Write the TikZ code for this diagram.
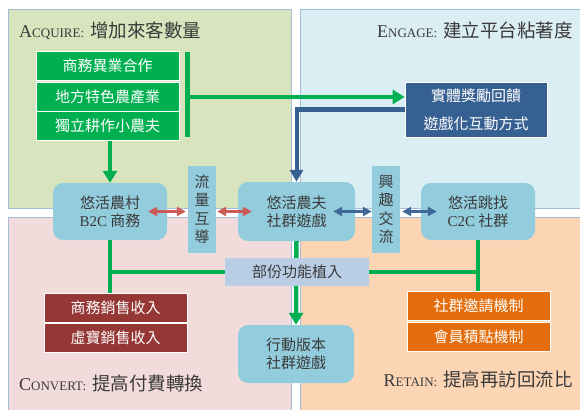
\documentclass[tikz,border=0pt]{standalone}
\usepackage{fontspec}
\newfontfamily\cjk{Noto Sans CJK TC}
\newfontfamily\tms{Liberation Serif}
\usetikzlibrary{arrows.meta}
\definecolor{acq}{HTML}{D7E4BD}
\definecolor{eng}{HTML}{DBEEF4}
\definecolor{con}{HTML}{F2DCDB}
\definecolor{ret}{HTML}{FCD5B5}
\definecolor{qline}{HTML}{A4BCDA}
\definecolor{lbox}{HTML}{93CDDD}
\definecolor{pbox}{HTML}{B9CDE5}
\definecolor{grn}{HTML}{00B050}
\definecolor{bbx}{HTML}{376092}
\definecolor{dred}{HTML}{953735}
\definecolor{org}{HTML}{E46C0A}
\definecolor{rarr}{HTML}{CD5A55}
\definecolor{barr}{HTML}{3F6797}
\definecolor{txt}{HTML}{3A3A3A}
\newcommand\lat[1]{{\tms #1}}
\newcommand\ttl[2]{{\tms\fontsize{18}{18}\selectfont #1\fontsize{13}{13}\selectfont #2:}\hspace{6pt}}
\begin{document}
\begin{tikzpicture}[x=1pt,y=-1pt,
  quad/.style={draw=qline,line width=1pt},
  title/.style={inner sep=0pt,text=txt,font=\cjk\fontsize{18.5}{18.5}\selectfont},
  solidbox/.style={rectangle,inner sep=0pt,minimum width=143pt,minimum height=28.5pt,draw=white,line width=0.8pt,text=white,font=\cjk\fontsize{15}{18}\selectfont},
  softbox/.style={rectangle,rounded corners=10pt,fill=lbox,inner sep=0pt,text=txt,align=center,font=\cjk\fontsize{15}{18}\selectfont},
  vbox/.style={rectangle,fill=lbox,inner sep=0pt,minimum width=28pt,minimum height=87pt,text=txt,align=center,font=\cjk\fontsize{15}{18.5}\selectfont},
  gline/.style={draw=grn,line width=4.5pt},
  garrow/.style={draw=grn,line width=4.5pt,-{Triangle[length=12pt,width=14pt]}},
  barrow/.style={draw=bbx,line width=4pt,-{Triangle[length=12pt,width=13pt]}},
  rdarrow/.style={draw=rarr,line width=3pt,{Triangle[length=9pt,width=9pt]}-{Triangle[length=9pt,width=9pt]}},
  bdarrow/.style={draw=barr,line width=3pt,{Triangle[length=9pt,width=9pt]}-{Triangle[length=9pt,width=9pt]}}]
\useasboundingbox (0,0) rectangle (580,409);
\clip (0,0) rectangle (580,409);
\fill[white] (0,0) rectangle (580,409);
% quadrants
\draw[quad,fill=acq] (8,10) rectangle (291,208);
\draw[quad,fill=eng] (300,10) rectangle (590,208);
\draw[quad,fill=con] (8,217) rectangle (291,420);
\draw[quad,fill=ret] (300,217) rectangle (590,420);
% titles
\node[title,anchor=west] (tA) at (19,30.5) {\ttl{A}{CQUIRE}增加來客數量};
\node[title,anchor=east] (tE) at (573,30.5) {\ttl{E}{NGAGE}建立平台粘著度};
\node[title,anchor=west] (tC) at (19,383) {\ttl{C}{ONVERT}提高付費轉換};
\node[title,anchor=east] (tR) at (573,379) {\ttl{R}{ETAIN}提高再訪回流比};
% acquire boxes
\node[solidbox,fill=grn] (g1) at (107.5,66) {商務異業合作};
\node[solidbox,fill=grn] (g2) at (107.5,97) {地方特色農產業};
\node[solidbox,fill=grn] (g3) at (107.5,126) {獨立耕作小農夫};
\node[rectangle,fill=grn,inner sep=0pt,minimum width=5pt,minimum height=85pt] (gbar) at (187.5,94.5) {};
% engage box
\node[rectangle,fill=bbx,draw=white,line width=0.8pt,inner sep=0pt,minimum width=142pt,minimum height=55pt,text=white,align=center,font=\cjk\fontsize{15}{28}\selectfont] (bb) at (476,109.5) {實體獎勵回饋\\遊戲化互動方式};
% main soft boxes
\node[softbox,minimum width=114pt,minimum height=57pt] (b2c) at (110,211.5) {悠活農村\\\lat{B2C} 商務};
\node[softbox,minimum width=117pt,minimum height=59pt] (sgame) at (296.5,211.5) {悠活農夫\\社群遊戲};
\node[softbox,minimum width=114pt,minimum height=57pt] (c2c) at (478,211.5) {悠活跳找\\\lat{C2C} 社群};
\node[softbox,minimum width=116pt,minimum height=58pt] (mobile) at (296,354) {行動版本\\社群遊戲};
\node[vbox] (flow) at (202,209.5) {流\\量\\互\\導};
\node[vbox] (interest) at (386,209.5) {興\\趣\\交\\流};
% revenue / retain boxes
\node[solidbox,fill=dred] (r1) at (115.5,308) {商務銷售收入};
\node[solidbox,fill=dred] (r2) at (115.5,338) {虛寶銷售收入};
\node[solidbox,fill=org] (o1) at (478.5,306) {社群邀請機制};
\node[solidbox,fill=org] (o2) at (478.5,337) {會員積點機制};
% connectors
\draw[garrow] (gbar.east |- g2) -- (bb.west |- g2);
\draw[garrow] (g3.south -| b2c.north) -- (b2c.north);
\draw[barrow] (bb.west) -| (sgame.north);
\draw[rdarrow,shorten <=-19pt,shorten >=2pt] (b2c.east) -- (b2c.east -| flow.west);
\draw[rdarrow,shorten <=1pt,shorten >=-14pt] (flow.east |- b2c.east) -- (b2c.east -| sgame.west);
\draw[bdarrow,shorten <=-22pt] (sgame.east) -- (sgame.east -| interest.west);
\draw[bdarrow,shorten <=2pt,shorten >=-16pt] (interest.east |- c2c.west) -- (c2c.west);
\draw[gline] (b2c.south) -- (b2c.south |- r1.north);
\draw[garrow] (sgame.south) -- (mobile.north);
\draw[gline] (c2c.south) -- (c2c.south |- o1.north);
\node[rectangle,fill=pbox,inner sep=0pt,minimum width=144pt,minimum height=28pt,text=txt,font=\cjk\fontsize{15}{18}\selectfont] (part) at (297,272) {部份功能植入};
\draw[gline,line width=4pt] (b2c.south |- part.west) -- (part.west);
\draw[gline,line width=4pt] (part.east) -- (part.east -| c2c.south);
\end{tikzpicture}
\end{document}
